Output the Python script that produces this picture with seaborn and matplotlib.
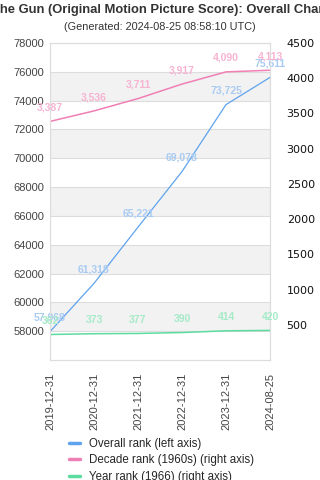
import seaborn as sns
import pandas as pd
import matplotlib.pyplot as plt
from matplotlib.lines import Line2D

dates = ["2019-12-31", "2020-12-31", "2021-12-31", "2022-12-31", "2023-12-31", "2024-08-25"]
overall_rank = [57968, 61318, 65221, 69078, 73725, 75611]
decade_rank = [3387, 3536, 3711, 3917, 4090, 4113]
year_rank = [362, 373, 377, 390, 414, 420]

blue = "#5fa3ee"
pink = "#f07fb5"
green = "#5ddc9f"

sns.set_style("white")
plt.rcParams["font.family"] = ["Liberation Sans", "DejaVu Sans"]

df = pd.DataFrame({"date": dates, "overall": overall_rank,
                   "decade": decade_rank, "year": year_rank})
df["pos"] = range(len(df))

fig = plt.figure(figsize=(3.2, 4.8), dpi=100)
ax = fig.add_axes([50/320, 1-360/480, 220/320, 317/480])
ax2 = ax.twinx()

# alternating bands on the left axis
for lo in range(58000, 78000, 4000):
    ax.axhspan(lo, lo + 2000, color="#f2f2f2", zorder=0, lw=0)
for y in range(58000, 78001, 2000):
    ax.axhline(y, color="#dddddd", lw=0.8, zorder=0.5)

sns.lineplot(data=df, x="pos", y="overall", ax=ax, color=blue, lw=0.9, zorder=3)
sns.lineplot(data=df, x="pos", y="decade", ax=ax2, color=pink, lw=1.1)
sns.lineplot(data=df, x="pos", y="year", ax=ax2, color=green, lw=1.1)

for i, v in enumerate(overall_rank):
    ax.annotate(f"{v:,}", (i, v), xytext=(0, 10), textcoords="offset points",
                ha="center", va="center", fontsize=7.5, fontweight="bold",
                color="#a9cbf3", zorder=4)
for i, v in enumerate(decade_rank):
    ax2.annotate(f"{v:,}", (i, v), xytext=(0, 10), textcoords="offset points",
                 ha="center", va="center", fontsize=7.5, fontweight="bold",
                 color="#f6b3d2")
for i, v in enumerate(year_rank):
    ax2.annotate(f"{v:,}", (i, v), xytext=(0, 10), textcoords="offset points",
                 ha="center", va="center", fontsize=7.5, fontweight="bold",
                 color="#a6ebc8")

ax.set_xlim(0, len(dates) - 1)
ax.set_ylim(56000, 78000)
ax2.set_ylim(0, 4500)
ax.set_yticks(range(58000, 78001, 2000))
ax2.set_yticks(range(500, 4501, 500))
ax.set_xticks(df["pos"])
ax.set_xticklabels(dates, rotation=90)
ax.tick_params(axis="y", length=0, labelsize=8, labelcolor="#444444", pad=4)
ax.tick_params(axis="x", length=0, labelsize=8, labelcolor="#444444", pad=9)
ax2.tick_params(axis="y", length=0, labelsize=8, labelcolor="#111111", pad=12)
for lab in ax2.get_yticklabels():
    lab.set_family("DejaVu Sans")
ax.set_xlabel("")
ax.set_ylabel("")
ax2.set_ylabel("")
for a in (ax, ax2):
    for s in a.spines.values():
        s.set_color("#dddddd")
        s.set_linewidth(0.8)

fig.text(-0.024, 1 - 10/480, "The Gun (Original Motion Picture Score): Overall Chart Ranks",
         ha="left", va="center", fontsize=9.4, fontweight="bold", color="#333333")
fig.text(0.5, 1 - 27/480, "(Generated: 2024-08-25 08:58:10 UTC)",
         ha="center", va="center", fontsize=7.8, color="#333333")

handles = [Line2D([], [], color=blue, lw=2.5),
           Line2D([], [], color=pink, lw=2.5),
           Line2D([], [], color=green, lw=2.5)]
labels = ["Overall rank (left axis)", "Decade rank (1960s) (right axis)",
          "Year rank (1966) (right axis)"]
fig.legend(handles, labels, loc="upper left", bbox_to_anchor=(64/320, 1 - 433/480),
           frameon=False, fontsize=8.3, handlelength=1.0, handletextpad=0.8,
           labelspacing=0.42, borderaxespad=0)

fig.savefig("out.png", dpi=100)
